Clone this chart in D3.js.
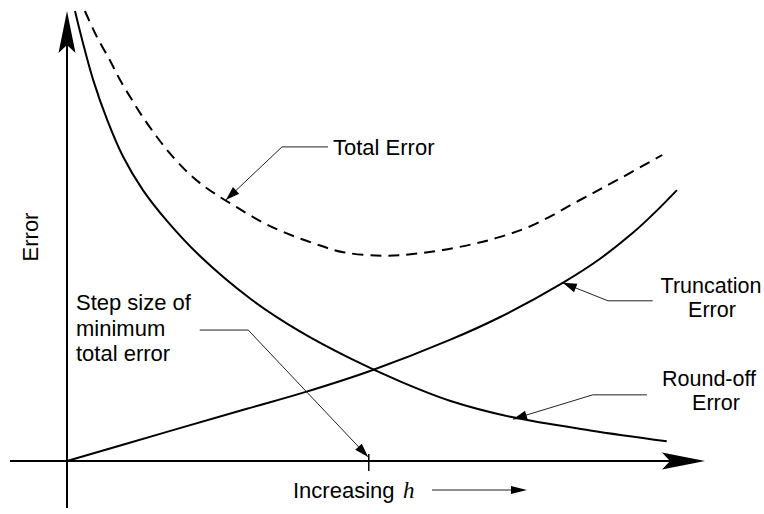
<!DOCTYPE html>
<html>
<head>
<meta charset="utf-8">
<script src="https://cdn.jsdelivr.net/npm/d3@7"></script>
<style>
  body { margin: 0; background: #fff; }
  text { font-family: "Liberation Sans", Arial, sans-serif; font-size: 22px; fill: #000; }
</style>
</head>
<body>
<div class="chart"></div>
<script>
// values (h and error in arbitrary units 0..10)
const roundH = [0.125, 0.25, 0.41, 0.63, 0.88, 1.19, 1.57, 2.08, 2.87, 3.65, 4.44, 5.22, 6.00, 6.99, 8.20, 9.40];
const roundE = [10.0, 9.29, 8.47, 7.58, 6.76, 6.02, 5.33, 4.56, 3.61, 2.88, 2.28, 1.77, 1.34, 0.97, 0.68, 0.44];

const truncH = [0, 1.5, 2.82, 3.73, 4.75, 6.00, 6.79, 7.77, 8.35, 8.87, 9.22, 9.56];
const truncE = [0, 0.62, 1.16, 1.53, 2.0, 2.69, 3.20, 3.96, 4.49, 5.07, 5.53, 6.02];

const totalH = [0.28, 0.47, 0.67, 0.83, 1.02, 1.19, 1.41, 1.61, 1.85, 2.08, 2.35, 2.66, 3.03, 3.39, 3.86, 4.33, 4.95, 5.42, 5.89, 6.36, 6.79, 7.30, 8.04, 8.62, 9.33];
const totalE = [10.0, 9.42, 8.91, 8.47, 8.02, 7.64, 7.2, 6.84, 6.47, 6.18, 5.91, 5.64, 5.33, 5.09, 4.84, 4.64, 4.56, 4.6, 4.69, 4.82, 4.98, 5.24, 5.8, 6.24, 6.8];

const hBest = 4.73;

// leader lines: [tip, elbow, end] in data units
const callouts = [
    {name: "total", pts: [[2.49, 5.8], [3.37, 6.98], [4.09, 6.98]]},
    {name: "trunc", pts: [[7.77, 3.96], [8.48, 3.56], [9.18, 3.56]]},
    {name: "round", pts: [[6.99, 0.93], [8.24, 1.47], [9.09, 1.47]]},
    {name: "step",  pts: [[4.72, 0.09], [2.84, 2.91], [2.08, 2.91]]}
];

const width = 764;
const height = 514;
const x0 = 67, y0 = 461;

const svg = d3.select(".chart")
    .append("svg")
    .attr("width", width)
    .attr("height", height);

const x = d3.scaleLinear().domain([0, 10]).range([x0, 705]);
const y = d3.scaleLinear().domain([0, 10]).range([y0, 11]);

const line = d3.line()
    .x(d => x(d[0]))
    .y(d => y(d[1]))
    .curve(d3.curveCatmullRom.alpha(0.5));

const zip = (a, b) => a.map((v, i) => [v, b[i]]);

// axes
svg.append("line")
    .attr("x1", 10).attr("y1", y0)
    .attr("x2", 680).attr("y2", y0)
    .attr("stroke", "#000").attr("stroke-width", 2);
svg.append("line")
    .attr("x1", x0).attr("y1", 508)
    .attr("x2", x0).attr("y2", 40)
    .attr("stroke", "#000").attr("stroke-width", 2);

// big arrow heads
const tipX = x(10), tipY = y(10);
svg.append("path")
    .attr("d", `M${tipX},${y0} L${tipX - 43},${y0 - 8.5} L${tipX - 35},${y0} L${tipX - 43},${y0 + 8.5} Z`)
    .attr("fill", "#000");
svg.append("path")
    .attr("d", `M${x0},${tipY} L${x0 - 8.5},${tipY + 42} L${x0},${tipY + 34} L${x0 + 8.5},${tipY + 42} Z`)
    .attr("fill", "#000");

// tick at optimum step size
svg.append("line")
    .attr("x1", x(hBest)).attr("x2", x(hBest))
    .attr("y1", y0 - 7).attr("y2", y0 + 10)
    .attr("stroke", "#000").attr("stroke-width", 1.5);

// curves
svg.append("path")
    .attr("d", line(zip(truncH, truncE)))
    .attr("fill", "none").attr("stroke", "#000").attr("stroke-width", 2);
svg.append("path")
    .attr("d", line(zip(roundH, roundE)))
    .attr("fill", "none").attr("stroke", "#000").attr("stroke-width", 2);
svg.append("path")
    .attr("d", line(zip(totalH, totalE)))
    .attr("fill", "none").attr("stroke", "#000").attr("stroke-width", 2)
    .attr("stroke-dasharray", "11,7");

// callout leaders with small arrow heads
const arrowHead = (tx, ty, fx, fy, len, half) => {
    const a = Math.atan2(ty - fy, tx - fx);
    const bx = tx - len * Math.cos(a), by = ty - len * Math.sin(a);
    const px = -Math.sin(a) * half, py = Math.cos(a) * half;
    return `M${tx},${ty} L${bx + px},${by + py} L${bx - px},${by - py} Z`;
};

callouts.forEach(c => {
    const p = c.pts.map(d => [x(d[0]), y(d[1])]);
    svg.append("polyline")
        .attr("points", p.map(d => d.join(",")).join(" "))
        .attr("fill", "none").attr("stroke", "#222").attr("stroke-width", 1);
    svg.append("path")
        .attr("d", arrowHead(p[0][0], p[0][1], p[1][0], p[1][1], 14, 4.5))
        .attr("fill", "#000");
});

// labels
svg.append("text").attr("x", 333).attr("y", 155).text("Total Error");

svg.append("text").attr("x", 711).attr("y", 293).attr("text-anchor", "middle").style("font-size", "21.5px").text("Truncation");
svg.append("text").attr("x", 712).attr("y", 317).attr("text-anchor", "middle").style("font-size", "21.5px").text("Error");

svg.append("text").attr("x", 709).attr("y", 386).attr("text-anchor", "middle").style("font-size", "21.5px").text("Round-off");
svg.append("text").attr("x", 716).attr("y", 410).attr("text-anchor", "middle").style("font-size", "21.5px").text("Error");

["Step size of", "minimum", "total error"].forEach((t, i) => {
    svg.append("text").attr("x", 76).attr("y", 310 + i * 25.5).text(t);
});

svg.append("text")
    .attr("transform", "translate(38,237) rotate(-90)")
    .attr("text-anchor", "middle")
    .text("Error");

svg.append("text").attr("x", 293).attr("y", 498).text("Increasing");
svg.append("text").attr("x", 403).attr("y", 498)
    .style("font-family", "'Liberation Serif', 'Times New Roman', serif")
    .style("font-style", "italic")
    .style("font-size", "23px")
    .text("h");

svg.append("line")
    .attr("x1", 432).attr("y1", 490).attr("x2", 514).attr("y2", 490)
    .attr("stroke", "#222").attr("stroke-width", 1.2);
svg.append("path")
    .attr("d", arrowHead(527, 490, 432, 490, 16, 4))
    .attr("fill", "#000");
</script>
</body>
</html>
